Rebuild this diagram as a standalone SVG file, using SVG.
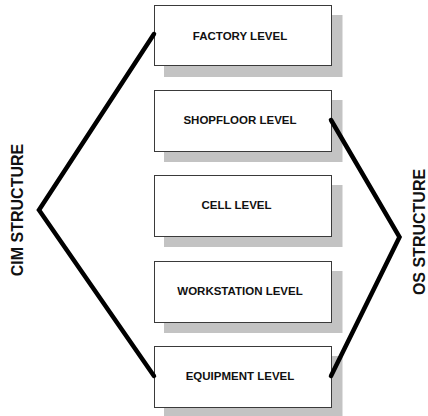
<svg xmlns="http://www.w3.org/2000/svg" width="428" height="416" viewBox="0 0 428 416">
  <style>
    .shadow { fill: #c3c3c3; }
    .box { fill: #ffffff; stroke: #3a3a3a; stroke-width: 1; }
    .label { font-family: "Liberation Sans", Arial, sans-serif; font-size: 11.5px; font-weight: bold; fill: #111111; text-anchor: middle; }
    .side { font-family: "Liberation Sans", Arial, sans-serif; font-size: 16px; font-weight: bold; fill: #111111; text-anchor: middle; }
    .link { fill: none; stroke: #000000; stroke-width: 4.5; stroke-linecap: round; stroke-linejoin: miter; }
  </style>
  <rect width="428" height="416" fill="#ffffff"/>

  <!-- hierarchy levels -->
  <g id="factory">
    <rect class="shadow" x="164" y="15" width="178.5" height="62"/>
    <rect class="box" x="154.5" y="5.5" width="177" height="60"/>
    <text class="label" x="240" y="39.5">FACTORY LEVEL</text>
  </g>
  <g id="shopfloor">
    <rect class="shadow" x="164" y="100" width="178.5" height="62"/>
    <rect class="box" x="154.5" y="90.5" width="177" height="61"/>
    <text class="label" x="240" y="124">SHOPFLOOR LEVEL</text>
  </g>
  <g id="cell">
    <rect class="shadow" x="164" y="185" width="178.5" height="62"/>
    <rect class="box" x="154.5" y="175.5" width="177" height="61"/>
    <text class="label" x="236.5" y="209">CELL LEVEL</text>
  </g>
  <g id="workstation">
    <rect class="shadow" x="164" y="271" width="178.5" height="62"/>
    <rect class="box" x="154.5" y="261.5" width="177" height="61"/>
    <text class="label" x="240" y="295">WORKSTATION LEVEL</text>
  </g>
  <g id="equipment">
    <rect class="shadow" x="164" y="356" width="178.5" height="62"/>
    <rect class="box" x="154.5" y="346.5" width="177" height="61"/>
    <text class="label" x="240" y="380">EQUIPMENT LEVEL</text>
  </g>

  <!-- structure brackets -->
  <g id="connectors">
    <polyline class="link" points="154,34 39,210 154,376"/>
    <polyline class="link" points="331,120 399.5,237 331,376"/>
  </g>

  <g id="cim-structure">
    <text class="side" transform="translate(23,210) rotate(-90)">CIM STRUCTURE</text>
  </g>
  <g id="os-structure">
    <text class="side" transform="translate(424.5,232) rotate(-90)">OS STRUCTURE</text>
  </g>
</svg>
